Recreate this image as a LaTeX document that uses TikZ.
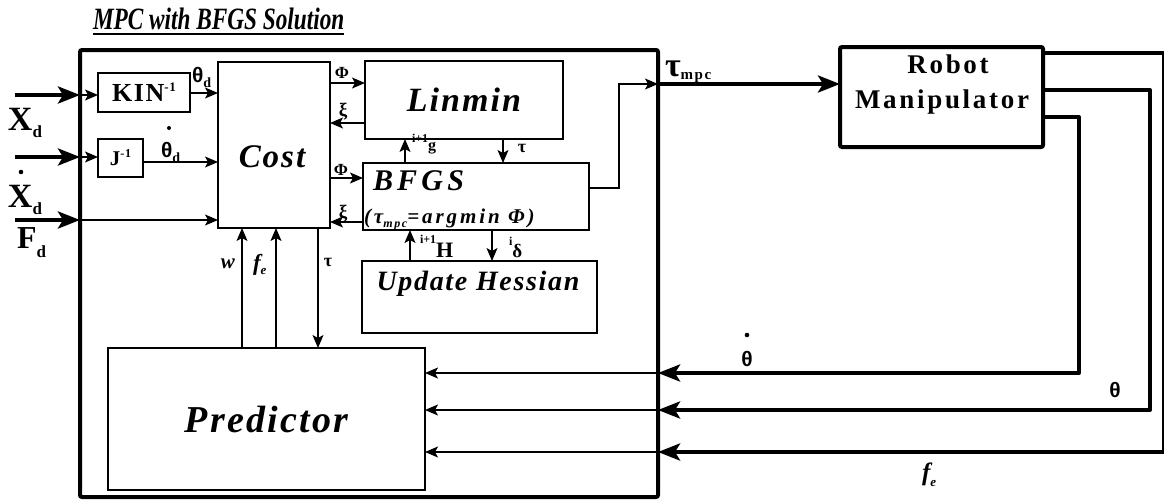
\documentclass[tikz,border=0pt]{standalone}
\usepackage{fontspec}
\setmainfont{Liberation Serif}
\newfontfamily\sansf{Liberation Sans}
\newfontfamily\spfont[LetterSpace=6]{Liberation Serif}
\newfontfamily\widef[LetterSpace=14]{Liberation Serif}
\newfontfamily\robf[LetterSpace=10]{Liberation Serif}
\newfontfamily\titlef[FakeStretch=0.75]{Liberation Serif}
\usetikzlibrary{arrows.meta}
\newcommand{\fs}[1]{\fontsize{#1}{#1}\selectfont}
\begin{document}
\begin{tikzpicture}[x=1pt,y=-1pt,
  box/.style={draw, line width=1.2pt, inner sep=0pt, outer sep=0pt, anchor=north west},
  bigbox/.style={draw, line width=4pt, rounded corners=2pt, inner sep=0pt, outer sep=0pt, anchor=north west},
  lbl/.style={inner sep=0pt, outer sep=0pt},
  thinarr/.style={line width=1.1pt, -{Stealth[length=13pt,width=11pt,inset=3pt]}},
  thickarr/.style={line width=4pt, -{Stealth[length=22pt,width=17pt,inset=5pt]}},
  fb/.style={line width=4pt, line join=round, -{Stealth[length=22pt,width=17pt,inset=5pt]}},
  ]
\useasboundingbox (0,0) rectangle (1164,501);

% ---- boxes
\node[bigbox, minimum width=578pt, minimum height=447pt] (mpc) at (80,50) {};
\node[bigbox, minimum width=203pt, minimum height=100pt] (robot) at (840,47) {};
\node[box, minimum width=92pt, minimum height=39pt, font={\spfont\bfseries\fs{26}}] (kin) at (98,73) {KIN{\fs{13}\raisebox{10pt}{-1}}};
\node[box, minimum width=45pt, minimum height=38pt, font={\spfont\bfseries\fs{21}}] (jinv) at (98,139) {J{\fs{12}\raisebox{8pt}{-1}}};
\node[box, minimum width=112pt, minimum height=166pt] (cost) at (218,62) {};
\node[box, minimum width=198pt, minimum height=78pt, font={\spfont\bfseries\itshape\fs{34}}] (linmin) at (365,61) {Linmin};
\node[box, minimum width=226pt, minimum height=67pt] (bfgs) at (363,163) {};
\node[box, minimum width=235pt, minimum height=72pt] (hess) at (362,261) {};
\node[box, minimum width=317pt, minimum height=142pt, font={\spfont\bfseries\itshape\fs{38}}] (pred) at (108,348) {Predictor};

% ---- texts in boxes
\node[lbl, anchor=base west, font={\titlef\bfseries\itshape\fs{31}}] (title) at (93,29) {MPC with BFGS Solution};
\draw[line width=1.7pt] ([yshift=-5pt]title.base west) -- ([yshift=-5pt]title.base east);
\node[lbl, font={\spfont\bfseries\itshape\fs{33}}] (costtxt) at (272,157) {Cost};
\node[lbl, anchor=base west, font={\widef\bfseries\itshape\fs{30}}] (bfgstxt) at (373,190) {BFGS};
\node[lbl, anchor=base west, font={\widef\bfseries\itshape\fs{21}}] (argtxt) at (364,223) {(τ{\fs{12}\raisebox{-4pt}{mpc}}=argmin Φ)};
\node[lbl, anchor=base, font={\spfont\bfseries\itshape\fs{28}}] (hesstxt) at (478,290) {Update Hessian};
\node[lbl, anchor=base, font={\robf\bfseries\fs{27}}] (rob1) at (948,73) {Robot};
\node[lbl, anchor=base, font={\robf\bfseries\fs{27}}] (rob2) at (942,108) {Manipulator};

% ---- input labels
\node[lbl, anchor=base west, font=\bfseries] (xd) at (8,130) {{\fs{34}X}{\fs{17}\raisebox{-7pt}{d}}};
\fill (21,172) circle (2.3);
\node[lbl, anchor=base west, font=\bfseries] (xdd) at (8,207) {{\fs{34}X}{\fs{17}\raisebox{-7pt}{d}}};
\node[lbl, anchor=base west, font=\bfseries] (fd) at (17,248) {{\fs{32}F}{\fs{17}\raisebox{-9pt}{d}}};
\node[lbl, anchor=base west] (thd) at (192,82) {{\sansf\bfseries\fs{21}θ}{\bfseries\fs{14}\raisebox{-5pt}{d}}};
\fill (169,128) circle (2);
\node[lbl, anchor=base west] (thdd) at (161,157) {{\sansf\bfseries\fs{21}θ}{\bfseries\fs{14}\raisebox{-5pt}{d}}};

% ---- inner labels
\node[lbl, font={\bfseries\fs{17}}] (phi1) at (342,73) {Φ};
\node[lbl, font={\bfseries\fs{19}}] (xi1) at (343,112) {ξ};
\node[lbl, font={\bfseries\fs{17}}] (phi2) at (341,170) {Φ};
\node[lbl, font={\bfseries\fs{19}}] (xi2) at (343,214) {ξ};
\node[lbl, anchor=base west, font=\bfseries] (gl) at (412,142) {{\fs{12}i+1}{\fs{16}\raisebox{-8pt}{g}}};
\node[lbl, font={\bfseries\fs{18}}] (taul) at (522,148) {τ};
\node[lbl, anchor=base west, font=\bfseries] (hl) at (420,243) {{\fs{12}i+1}{\fs{22}\raisebox{-14pt}{H}}};
\node[lbl, anchor=base west, font=\bfseries] (dl) at (509,245) {{\fs{12}i}{\fs{19}\raisebox{-12pt}{δ}}};
\node[lbl, font={\bfseries\itshape\fs{21}}] (wl) at (228,264) {w};
\node[lbl, anchor=base west, font={\bfseries\itshape}] (fel) at (253,270) {{\fs{23}f}{\fs{13}\raisebox{-4pt}{e}}};
\node[lbl, font={\bfseries\fs{18}}] (tau2) at (328,262) {τ};
\node[lbl, anchor=base west, font=\bfseries] (taumpc) at (665,76) {{\fs{34}τ}{\robf\fs{15}\raisebox{-3pt}{mpc}}};
\node[lbl, font={\sansf\bfseries\fs{21}}] (thdot) at (747,359) {θ};
\fill (747,335) circle (2.3);
\node[lbl, font={\sansf\bfseries\fs{21}}] (th) at (1115,390) {θ};
\node[lbl, anchor=base west, font={\bfseries\itshape}] (fe2) at (922,480) {{\fs{25}f}{\fs{13}\raisebox{-6pt}{e}}};

% ---- inputs
\coordinate (in1) at (15,95);
\coordinate (in2) at (15,157);
\coordinate (in3) at (15,220);
\draw[thickarr] (in1) -- (in1 -| mpc.west);
\draw[thinarr] (in1 -| mpc.west) -- (in1 -| kin.west);
\draw[thickarr] (in2) -- (in2 -| mpc.west);
\draw[thinarr] (in2 -| mpc.west) -- (in2 -| jinv.west);
\draw[thickarr] (in3) -- (in3 -| mpc.west);
\draw[thinarr] (in3 -| mpc.west) -- (in3 -| cost.west);
\draw[thinarr] (kin.east |- 0,93) -- (cost.west |- 0,93);
\draw[thinarr] (jinv.east |- 0,162) -- (cost.west |- 0,162);

% ---- cost / optimiser
\draw[thinarr] (cost.east |- 0,83) -- (linmin.west |- 0,83);
\draw[thinarr] (linmin.west |- 0,123) -- (cost.east |- 0,123);
\draw[thinarr] (cost.east |- 0,178) -- (bfgs.west |- 0,178);
\draw[thinarr] (bfgs.west |- 0,222) -- (cost.east |- 0,222);
\draw[thinarr] (bfgs.north -| 405,0) -- (linmin.south -| 405,0);
\draw[thinarr] (linmin.south -| 503,0) -- (bfgs.north -| 503,0);
\draw[thinarr] (hess.north -| 410,0) -- (bfgs.south -| 410,0);
\draw[thinarr] (bfgs.south -| 492,0) -- (hess.north -| 492,0);
\draw[thinarr] (pred.north -| 242,0) -- (cost.south -| 242,0);
\draw[thinarr] (pred.north -| 276,0) -- (cost.south -| 276,0);
\draw[thinarr] (cost.south -| 318,0) -- (pred.north -| 318,0);

% ---- output
\coordinate (tm) at (619,84);
\draw[thinarr] (bfgs.east |- 0,188) -| (tm) -- (tm -| mpc.east);
\draw[thickarr] (tm -| mpc.east) -- (tm -| robot.west);

% ---- feedback
\coordinate (fb1) at (1079,373);
\coordinate (fb2) at (1150,410);
\coordinate (fb3) at (1164,452);
\draw[fb] (robot.east |- 0,117) -| (fb1) -- (fb1 -| mpc.east);
\draw[fb] (robot.east |- 0,90) -| (fb2) -- (fb2 -| mpc.east);
\draw[fb] (robot.east |- 0,53) -| (fb3) -- (fb3 -| mpc.east);
\draw[thinarr] (fb1 -| mpc.east) -- (fb1 -| pred.east);
\draw[thinarr] (fb2 -| mpc.east) -- (fb2 -| pred.east);
\draw[thinarr] (fb3 -| mpc.east) -- (fb3 -| pred.east);
\end{tikzpicture}
\end{document}
